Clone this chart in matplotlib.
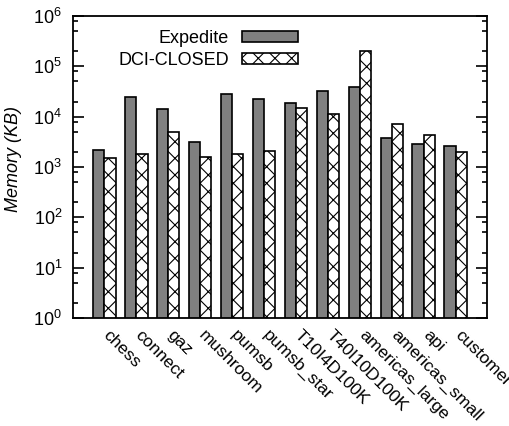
import numpy as np
import matplotlib
matplotlib.use("Agg")
import matplotlib.pyplot as plt
from matplotlib.ticker import FixedLocator, LogLocator, NullFormatter
from matplotlib.transforms import ScaledTranslation

categories = ["chess", "connect", "gaz", "mushroom", "pumsb", "pumsb_star",
              "T10I4D100K", "T40I10D100K", "americas_large", "americas_small",
              "api", "customer"]
expedite = [2200, 25000, 14500, 3200, 28000, 22600, 19100, 33000, 38000,
            3850, 2800, 2650]
dci_closed = [1480, 1850, 4850, 1570, 1850, 2090, 14800, 11500, 206000,
              7100, 4350, 2030]
series_names = ["Expedite", "DCI-CLOSED"]
ytick_values = [1e0, 1e1, 1e2, 1e3, 1e4, 1e5, 1e6]
ytick_labels = [r"$\mathregular{10^{0}}$", r"$\mathregular{10^{1}}$",
                r"$\mathregular{10^{2}}$", r"$\mathregular{10^{3}}$",
                r"$\mathregular{10^{4}}$", r"$\mathregular{10^{5}}$",
                r"$\mathregular{10^{6}}$"]
ylabel = "Memory (KB)"

plt.rcParams["font.family"] = ["Liberation Sans", "DejaVu Sans"]
plt.rcParams["mathtext.fontset"] = "custom"
plt.rcParams["mathtext.rm"] = "Liberation Sans"
plt.rcParams["mathtext.it"] = "Liberation Sans:italic"
plt.rcParams["hatch.linewidth"] = 0.8

fig = plt.figure(figsize=(5.10, 4.26), dpi=100)
ax = fig.add_axes([73.3 / 510, 1 - 318 / 426, (486.7 - 73.3) / 510, (318 - 16) / 426])

x = np.arange(len(categories))
w = 0.354
ax.bar(x - w / 2, expedite, width=w, color="#808080", edgecolor="black",
       linewidth=1.2, label=series_names[0])
ax.bar(x + w / 2, dci_closed, width=w, color="white", edgecolor="black",
       linewidth=1.2, hatch="xx", label=series_names[1])

ax.set_yscale("log")
ax.set_ylim(1, 1e6)
ax.set_xlim(-0.97, len(categories) - 0.03)

ax.yaxis.set_major_locator(FixedLocator(ytick_values))
ax.set_yticklabels(ytick_labels, fontsize=13)
ax.yaxis.set_minor_locator(LogLocator(base=10, subs=[2, 5, 8], numticks=20))
ax.yaxis.set_minor_formatter(NullFormatter())
ax.tick_params(axis="y", which="major", direction="in", length=8, width=1.2,
               right=True, pad=8)
ax.tick_params(axis="y", which="minor", direction="in", length=3.6, width=1.2,
               right=True)

ax.set_xticks(x)
ax.set_xticklabels(categories, rotation=-45, ha="left", va="top",
                   fontsize=12.6)
ax.tick_params(axis="x", length=0, pad=7)
shift = ScaledTranslation(-4 / 100, 0, fig.dpi_scale_trans)
for lab in ax.get_xticklabels():
    lab.set_transform(lab.get_transform() + shift)

ax.set_ylabel(ylabel, fontsize=13, style="italic")
ax.yaxis.set_label_coords(-0.125, 0.525)

for s in ax.spines.values():
    s.set_linewidth(1.3)

ax.legend(loc="upper right", bbox_to_anchor=((297.7 - 73.3) / 413.4, 1 - 14 / 302),
          frameon=False, markerfirst=False, fontsize=13, borderpad=0,
          borderaxespad=0, handlelength=3.1, handleheight=0.55,
          handletextpad=0.7, labelspacing=0.25)

fig.savefig("out.png", dpi=100)
